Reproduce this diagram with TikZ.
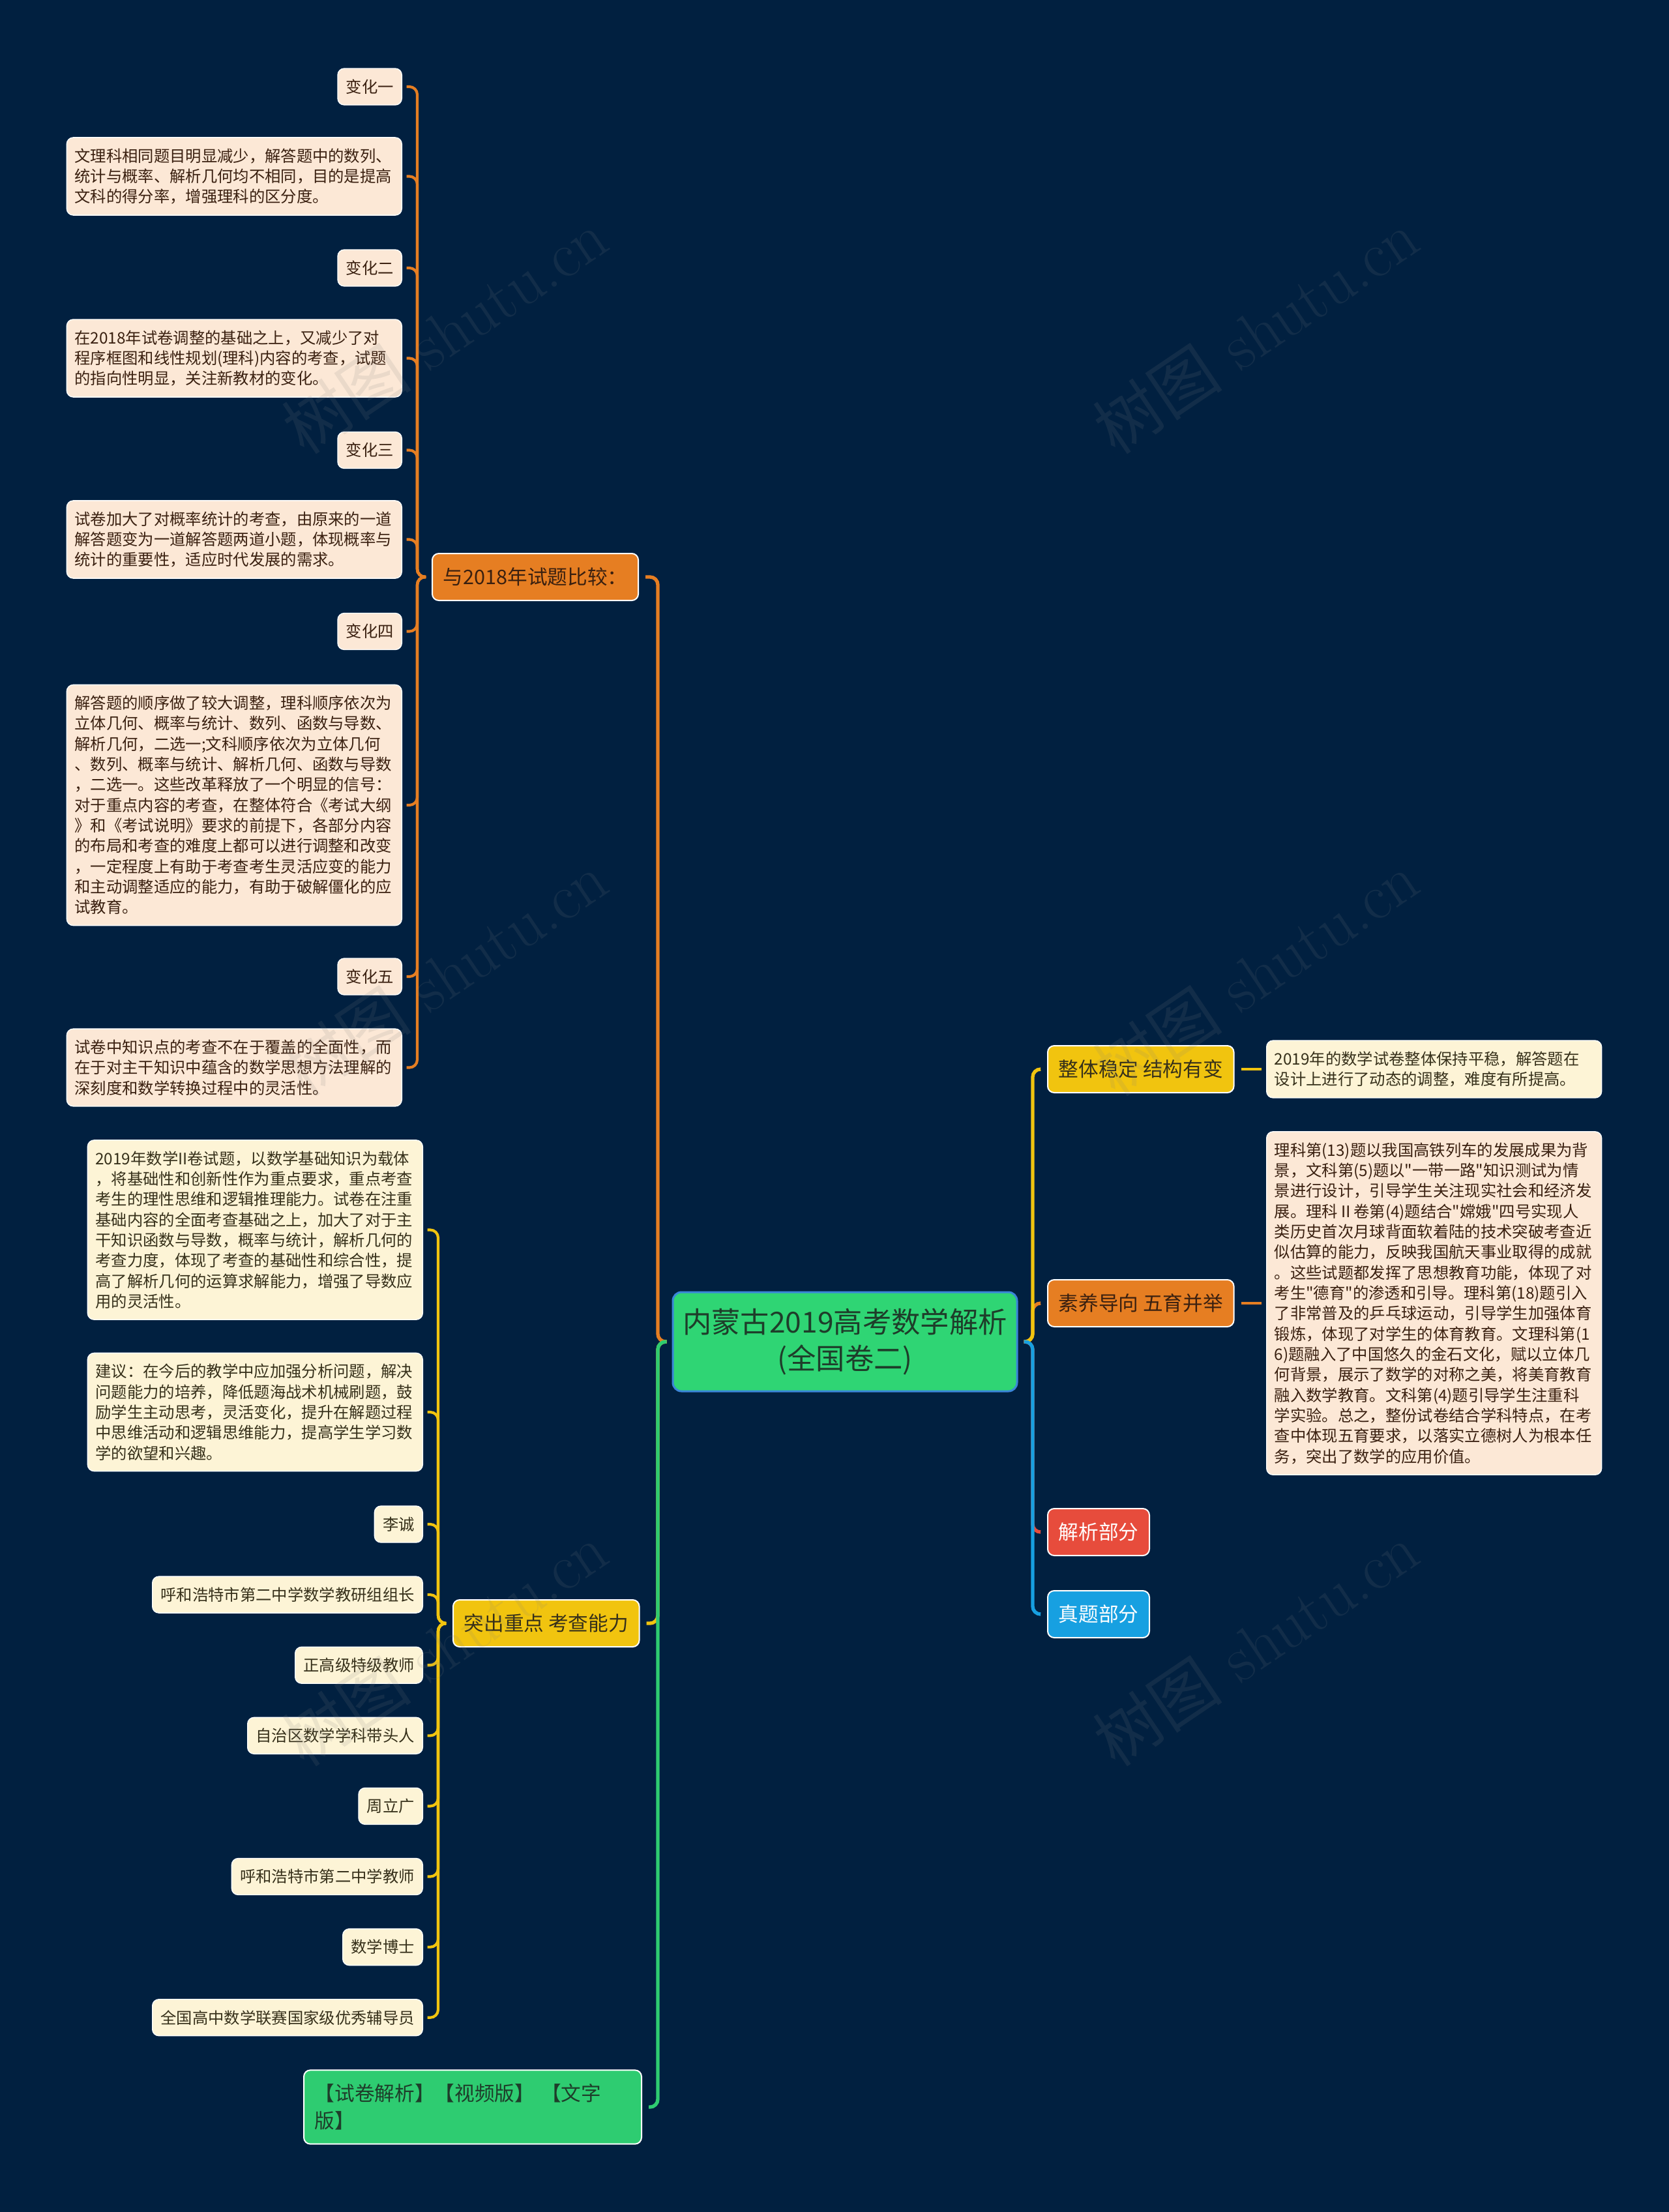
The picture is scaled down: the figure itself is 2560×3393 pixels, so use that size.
\documentclass[tikz,border=0pt]{standalone}
\usepackage{fontspec}
\newfontfamily\cjk{Noto Sans CJK SC}
\usetikzlibrary{math}

\definecolor{bgnavy}{HTML}{012040}
\definecolor{brorange}{HTML}{E67E22}
\definecolor{bryellow}{HTML}{F1C40F}
\definecolor{brgreen}{HTML}{2ECC71}
\definecolor{rootgreen}{HTML}{2FD574}
\definecolor{rootblue}{HTML}{3A86D8}
\definecolor{brred}{HTML}{E74C3C}
\definecolor{brblue}{HTML}{17A0E1}
\definecolor{leafpeach}{HTML}{FCE8D6}
\definecolor{leafcream}{HTML}{FDF4D6}
\definecolor{inkbrown}{HTML}{3A2010}
\definecolor{inkolive}{HTML}{36301A}
\definecolor{inkgreen}{HTML}{1E3D2A}

\tikzset{
  leaffont/.style={font=\cjk\fontsize{7.3}{9.4}\selectfont},
  mainfont/.style={font=\cjk\fontsize{9.2}{12.6}\selectfont},
  leafbox/.style={leaffont, rounded corners=3pt, draw=white, line width=0.4pt, inner xsep=3.6pt},
  peach/.style={leafbox, fill=leafpeach, text=inkbrown},
  cream/.style={leafbox, fill=leafcream, text=inkolive},
  tag/.style={minimum height=16.8pt, inner xsep=3.8pt, inner ysep=0pt},
  para/.style={text width=147pt, align=left, inner ysep=5pt},
  mainbox/.style={mainfont, rounded corners=3pt, draw=white, line width=0.6pt,
    minimum height=21.6pt, inner xsep=5pt, inner ysep=0pt},
  rootbox/.style={font=\cjk\fontsize{13.3}{16.6}\selectfont, align=center, fill=rootgreen,
    draw=rootblue, line width=0.9pt, rounded corners=4pt, text=inkgreen,
    minimum width=158.4pt, minimum height=45.6pt},
  mainline/.style={line width=1.6pt, rounded corners=3.6pt},
  subline/.style={line width=1.25pt, rounded corners=3.6pt},
  watermark/.style={rotate=34, text=gray, text opacity=0.14, font=\fontsize{30}{36}\selectfont}
}

\begin{document}
\begin{tikzpicture}[x=0.3pt, y=-0.3pt]
  \tikzmath{
    \lbar=1009; \rbar=1584;
    \obar=640; \ybar=672;
    \tagy=2338; \tagstep=108.1;
  }
  \useasboundingbox (0,0) rectangle (2560,3393);
  \fill[bgnavy] (0,0) rectangle (2560,3393);
  \coordinate (lbar) at (\lbar,0);
  \coordinate (rbar) at (\rbar,0);
  \coordinate (obar) at (\obar,0);
  \coordinate (ybar) at (\ybar,0);

  % root
  \node[rootbox] (root) at (1296,2058) {内蒙古2019高考数学解析\\(全国卷二)};

  % comparison with 2018
  \node[mainbox, fill=brorange, text=inkbrown, anchor=west] (cmp) at (662,885) {与2018年试题比较：};
  \node[peach, tag, anchor=east] (c1) at (617,133) {变化一};
  \node[peach, para, anchor=east] (d1) at (617,270.5) {文理科相同题目明显减少，解答题中的数列、\\统计与概率、解析几何均不相同，目的是提高\\文科的得分率，增强理科的区分度。};
  \node[peach, tag, anchor=east] (c2) at (617,411) {变化二};
  \node[peach, para, anchor=east] (d2) at (617,549.5) {在2018年试卷调整的基础之上，又减少了对\\程序框图和线性规划(理科)内容的考查，试题\\的指向性明显，关注新教材的变化。};
  \node[peach, tag, anchor=east] (c3) at (617,690.5) {变化三};
  \node[peach, para, anchor=east] (d3) at (617,827.5) {试卷加大了对概率统计的考查，由原来的一道\\解答题变为一道解答题两道小题，体现概率与\\统计的重要性，适应时代发展的需求。};
  \node[peach, tag, anchor=east] (c4) at (617,968.5) {变化四};
  \node[peach, para, anchor=east] (d4) at (617,1235) {解答题的顺序做了较大调整，理科顺序依次为\\立体几何、概率与统计、数列、函数与导数、\\解析几何，二选一;文科顺序依次为立体几何\\、数列、概率与统计、解析几何、函数与导数\\，二选一。这些改革释放了一个明显的信号：\\对于重点内容的考查，在整体符合《考试大纲\\》和《考试说明》要求的前提下，各部分内容\\的布局和考查的难度上都可以进行调整和改变\\，一定程度上有助于考查考生灵活应变的能力\\和主动调整适应的能力，有助于破解僵化的应\\试教育。};
  \node[peach, tag, anchor=east] (c5) at (617,1498) {变化五};
  \node[peach, para, anchor=east] (d5) at (617,1637.5) {试卷中知识点的考查不在于覆盖的全面性，而\\在于对主干知识中蕴含的数学思想方法理解的\\深刻度和数学转换过程中的灵活性。};

  % focus and ability
  \node[mainbox, fill=bryellow, text=inkolive, anchor=west] (foc) at (694,2490) {突出重点 考查能力};
  \node[cream, para, anchor=east] (e1) at (649,1886.5) {2019年数学II卷试题，以数学基础知识为载体\\，将基础性和创新性作为重点要求，重点考查\\考生的理性思维和逻辑推理能力。试卷在注重\\基础内容的全面考查基础之上，加大了对于主\\干知识函数与导数，概率与统计，解析几何的\\考查力度，体现了考查的基础性和综合性，提\\高了解析几何的运算求解能力，增强了导数应\\用的灵活性。};
  \node[cream, para, anchor=east] (e2) at (649,2166) {建议：在今后的教学中应加强分析问题，解决\\问题能力的培养，降低题海战术机械刷题，鼓\\励学生主动思考，灵活变化，提升在解题过程\\中思维活动和逻辑思维能力，提高学生学习数\\学的欲望和兴趣。};
  \foreach \t [count=\i] in {李诚,呼和浩特市第二中学数学教研组组长,正高级特级教师,自治区数学学科带头人,周立广,呼和浩特市第二中学教师,数学博士,全国高中数学联赛国家级优秀辅导员}
    \node[cream, tag, anchor=east] (t\i) at (649,{\tagy+(\i-1)*\tagstep}) {\t};

  % versions
  \node[mainbox, fill=brgreen, text=inkgreen, text width=145.4pt, align=left,
    minimum height=34pt, anchor=east] (ver) at (985,3232) {【试卷解析】【视频版】 【文字\\版】};

  % right side
  \node[mainbox, fill=bryellow, text=inkolive, anchor=west] (stab) at (1606,1640) {整体稳定 结构有变};
  \node[cream, para, anchor=west] (stabtxt) at (1942,1640) {2019年的数学试卷整体保持平稳，解答题在\\设计上进行了动态的调整，难度有所提高。};
  \node[mainbox, fill=brorange, text=inkbrown, anchor=west] (lit) at (1606,1999) {素养导向 五育并举};
  \node[peach, para, anchor=west] (littxt) at (1942,1999) {理科第(13)题以我国高铁列车的发展成果为背\\景，文科第(5)题以"一带一路"知识测试为情\\景进行设计，引导学生关注现实社会和经济发\\展。理科Ⅱ卷第(4)题结合"嫦娥"四号实现人\\类历史首次月球背面软着陆的技术突破考查近\\似估算的能力，反映我国航天事业取得的成就\\。这些试题都发挥了思想教育功能，体现了对\\考生"德育"的渗透和引导。理科第(18)题引入\\了非常普及的乒乓球运动，引导学生加强体育\\锻炼，体现了对学生的体育教育。文理科第(1\\6)题融入了中国悠久的金石文化，赋以立体几\\何背景，展示了数学的对称之美，将美育教育\\融入数学教育。文科第(4)题引导学生注重科\\学实验。总之，整份试卷结合学科特点，在考\\查中体现五育要求，以落实立德树人为根本任\\务，突出了数学的应用价值。};
  \node[mainbox, fill=brred, text=white, anchor=west] (ana) at (1606,2350) {解析部分};
  \node[mainbox, fill=brblue, text=white, anchor=west] (real) at (1606,2476) {真题部分};

  % connectors, left of root
  \draw[mainline, brorange] (root.west) ++(-8,0) -- (lbar |- root.west) -- (lbar |- cmp.east) -- ([xshift=3pt]cmp.east);
  \draw[mainline, bryellow] (root.west) ++(-8,0) -- (lbar |- root.west) -- (lbar |- foc.east) -- ([xshift=3pt]foc.east);
  \draw[mainline, brgreen] (root.west) ++(-8,0) -- (lbar |- root.west) -- (lbar |- ver.east) -- ([xshift=3pt]ver.east);
  % connectors, right of root
  \draw[mainline, brorange] (root.east) ++(9,0) -- (rbar |- root.east) -- (rbar |- lit.west) -- ([xshift=-3pt]lit.west);
  \draw[mainline, brred] (root.east) ++(9,0) -- (rbar |- root.east) -- (rbar |- ana.west) -- ([xshift=-3pt]ana.west);
  \draw[mainline, bryellow] (root.east) ++(9,0) -- (rbar |- root.east) -- (rbar |- stab.west) -- ([xshift=-3pt]stab.west);
  \draw[mainline, brblue] (root.east) ++(9,0) -- (rbar |- root.east) -- (rbar |- real.west) -- ([xshift=-3pt]real.west);

  % sub-branches
  \foreach \k in {c1,d1,c2,d2,c3,d3,c4,d4,c5,d5}
    \draw[subline, brorange] (cmp.west) ++(-9,0) -- (obar |- cmp.west) -- (obar |- \k.east) -- ([xshift=2pt]\k.east);
  \foreach \k in {e1,e2,t1,t2,t3,t4,t5,t6,t7,t8}
    \draw[subline, bryellow] (foc.west) ++(-10,0) -- (ybar |- foc.west) -- (ybar |- \k.east) -- ([xshift=2pt]\k.east);
  \draw[subline, bryellow] ([xshift=3pt]stab.east) -- ([xshift=-2.2pt]stabtxt.west);
  \draw[subline, brorange] ([xshift=3pt]lit.east) -- ([xshift=-2.2pt]littxt.west);

  % watermarks
  \foreach \wx in {682,1926}
    \foreach \wy in {509,1494,2522}
      \node[watermark] (wm-\wx-\wy) at (\wx,\wy) {{\cjk 树图} shutu.cn};
\end{tikzpicture}
\end{document}
